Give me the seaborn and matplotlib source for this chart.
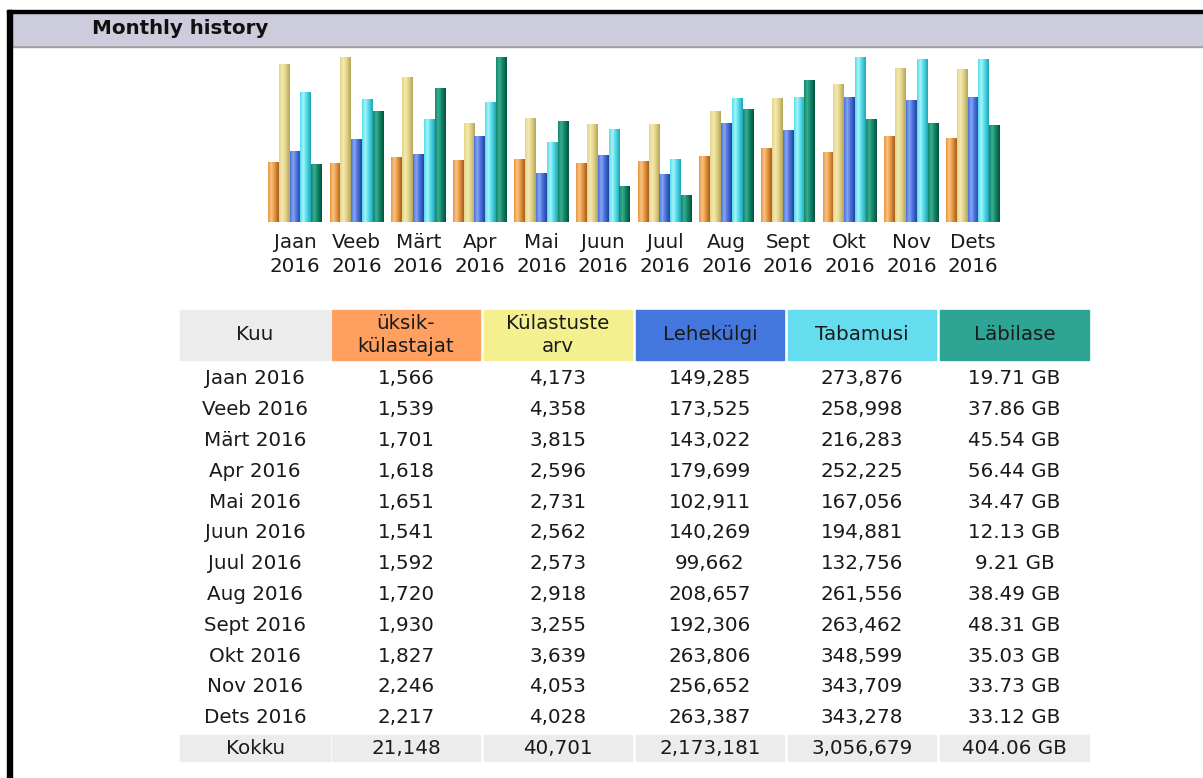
import numpy as np
import pandas as pd
import matplotlib
matplotlib.use('Agg')
import matplotlib.pyplot as plt
from matplotlib.colors import LinearSegmentedColormap
from matplotlib.patches import Rectangle
import seaborn as sns

months = ['Jaan', 'Veeb', 'Märt', 'Apr', 'Mai', 'Juun', 'Juul', 'Aug', 'Sept', 'Okt', 'Nov', 'Dets']
year = '2016'
visitors = [1566, 1539, 1701, 1618, 1651, 1541, 1592, 1720, 1930, 1827, 2246, 2217]
visits = [4173, 4358, 3815, 2596, 2731, 2562, 2573, 2918, 3255, 3639, 4053, 4028]
pages = [149285, 173525, 143022, 179699, 102911, 140269, 99662, 208657, 192306, 263806, 256652, 263387]
hits = [273876, 258998, 216283, 252225, 167056, 194881, 132756, 261556, 263462, 348599, 343709, 343278]
bandwidth_gb = [19.71, 37.86, 45.54, 56.44, 34.47, 12.13, 9.21, 38.49, 48.31, 35.03, 33.73, 33.12]
totals = ['21,148', '40,701', '2,173,181', '3,056,679', '404.06 GB']

headers = ['Kuu', 'üksik-\nkülastajat', 'Külastuste\narv', 'Lehekülgi', 'Tabamusi', 'Läbilase']
header_colors = ['#ECECEC', '#FFA060', '#F4F090', '#4477DD', '#66DDEE', '#2EA495']
series = ['visitors', 'visits', 'pages', 'hits', 'bandwidth']

W, H = 1203, 778
fig = plt.figure(figsize=(W / 100, H / 100), dpi=100)
fig.patch.set_facecolor('white')


def fx(x):
    return x / W


def fy(y):
    return 1 - y / H


# frame and title band
fig.patches.append(Rectangle((fx(12), fy(47)), 1, (47 - 45) / H, transform=fig.transFigure,
                             color='#A0A0A0', zorder=0))
fig.patches.append(Rectangle((fx(12), fy(45)), 1, (45 - 13) / H, transform=fig.transFigure,
                             color='#CDCCDD', zorder=0))
fig.patches.append(Rectangle((fx(7), fy(13)), 1, 3 / H, transform=fig.transFigure,
                             color='black', zorder=1))
fig.patches.append(Rectangle((fx(7), 0), 5 / W, fy(10), transform=fig.transFigure,
                             color='black', zorder=1))
fig.text(fx(92), fy(29), 'Monthly history', fontsize=14.3, fontweight='bold',
         color='#111111', ha='left', va='center')

# bar chart: each group scaled like awstats
max_v = max(visits)
max_h = max(hits)
max_b = max(bandwidth_gb)
scaled = {
    'visitors': [v / max_v for v in visitors],
    'visits': [v / max_v for v in visits],
    'pages': [v / max_h for v in pages],
    'hits': [v / max_h for v in hits],
    'bandwidth': [v / max_b for v in bandwidth_gb],
}
df = pd.DataFrame([(m, s, scaled[s][i]) for i, m in enumerate(months) for s in series],
                  columns=['month', 'series', 'value'])

base = ['#E8963C', '#E4D486', '#4A72DC', '#52DCE8', '#138668']
light = ['#F8C488', '#F4EAB4', '#86A6F2', '#A8F4FA', '#3AAE92']
dark = ['#A45E1E', '#B4A45E', '#2242A2', '#22A4B4', '#03533E']

left, right = 264.2, 1003.8
ax = fig.add_axes([fx(left), fy(222), (right - left) / W, (222 - 57) / H])
sns.barplot(data=df, x='month', y='value', hue='series', hue_order=series,
            palette=base, width=0.88, gap=0, legend=False, ax=ax, saturation=1)

grad = np.linspace(0, 1, 64).reshape(1, -1)
for k, cont in enumerate(ax.containers):
    cmap = LinearSegmentedColormap.from_list(
        'b%d' % k, [(0, base[k]), (0.3, light[k]), (0.6, base[k]), (1, dark[k])])
    for bar in cont:
        x0, w, h = bar.get_x(), bar.get_width(), bar.get_height()
        ax.imshow(grad, cmap=cmap, extent=(x0, x0 + w, 0, h), aspect='auto',
                  interpolation='bilinear', zorder=3)

ax.set_xlim(-0.5, len(months) - 0.5)
ax.set_ylim(0, 1)
ax.set_xticks(range(len(months)))
ax.set_xticklabels([m + '\n' + year for m in months], fontsize=14.3,
                   color='#1a1a1a', linespacing=1.3)
ax.tick_params(axis='x', length=0, pad=8)
ax.set_yticks([])
ax.set_xlabel('')
ax.set_ylabel('')
for sp in ax.spines.values():
    sp.set_visible(False)
ax.patch.set_alpha(0)

# table
col_x = [(180, 330), (332, 480), (484, 632), (636, 784), (788, 936), (940, 1089)]
for (x0, x1), lab, c in zip(col_x, headers, header_colors):
    fig.patches.append(Rectangle((fx(x0), fy(360)), (x1 - x0) / W, 50 / H,
                                 transform=fig.transFigure, color=c, zorder=0))
    fig.text(fx((x0 + x1) / 2), fy(335), lab, fontsize=14.3, color='#1a1a1a',
             ha='center', va='center', linespacing=1.25)

rows = []
for i, m in enumerate(months):
    rows.append([m + ' ' + year, f'{visitors[i]:,}', f'{visits[i]:,}', f'{pages[i]:,}',
                 f'{hits[i]:,}', f'{bandwidth_gb[i]:.2f} GB'])

for r, row in enumerate(rows):
    yc = 379 + r * 30.8
    for (x0, x1), val in zip(col_x, row):
        fig.text(fx((x0 + x1) / 2), fy(yc), val, fontsize=14.3, color='#1a1a1a',
                 ha='center', va='center')

for (x0, x1), val in zip(col_x, ['Kokku'] + totals):
    fig.patches.append(Rectangle((fx(x0), fy(761)), (x1 - x0) / W, 26 / H,
                                 transform=fig.transFigure, color='#ECECEC', zorder=0))
    fig.text(fx((x0 + x1) / 2), fy(748), val, fontsize=14.3, color='#1a1a1a',
             ha='center', va='center')

fig.savefig('out.png', dpi=100)
